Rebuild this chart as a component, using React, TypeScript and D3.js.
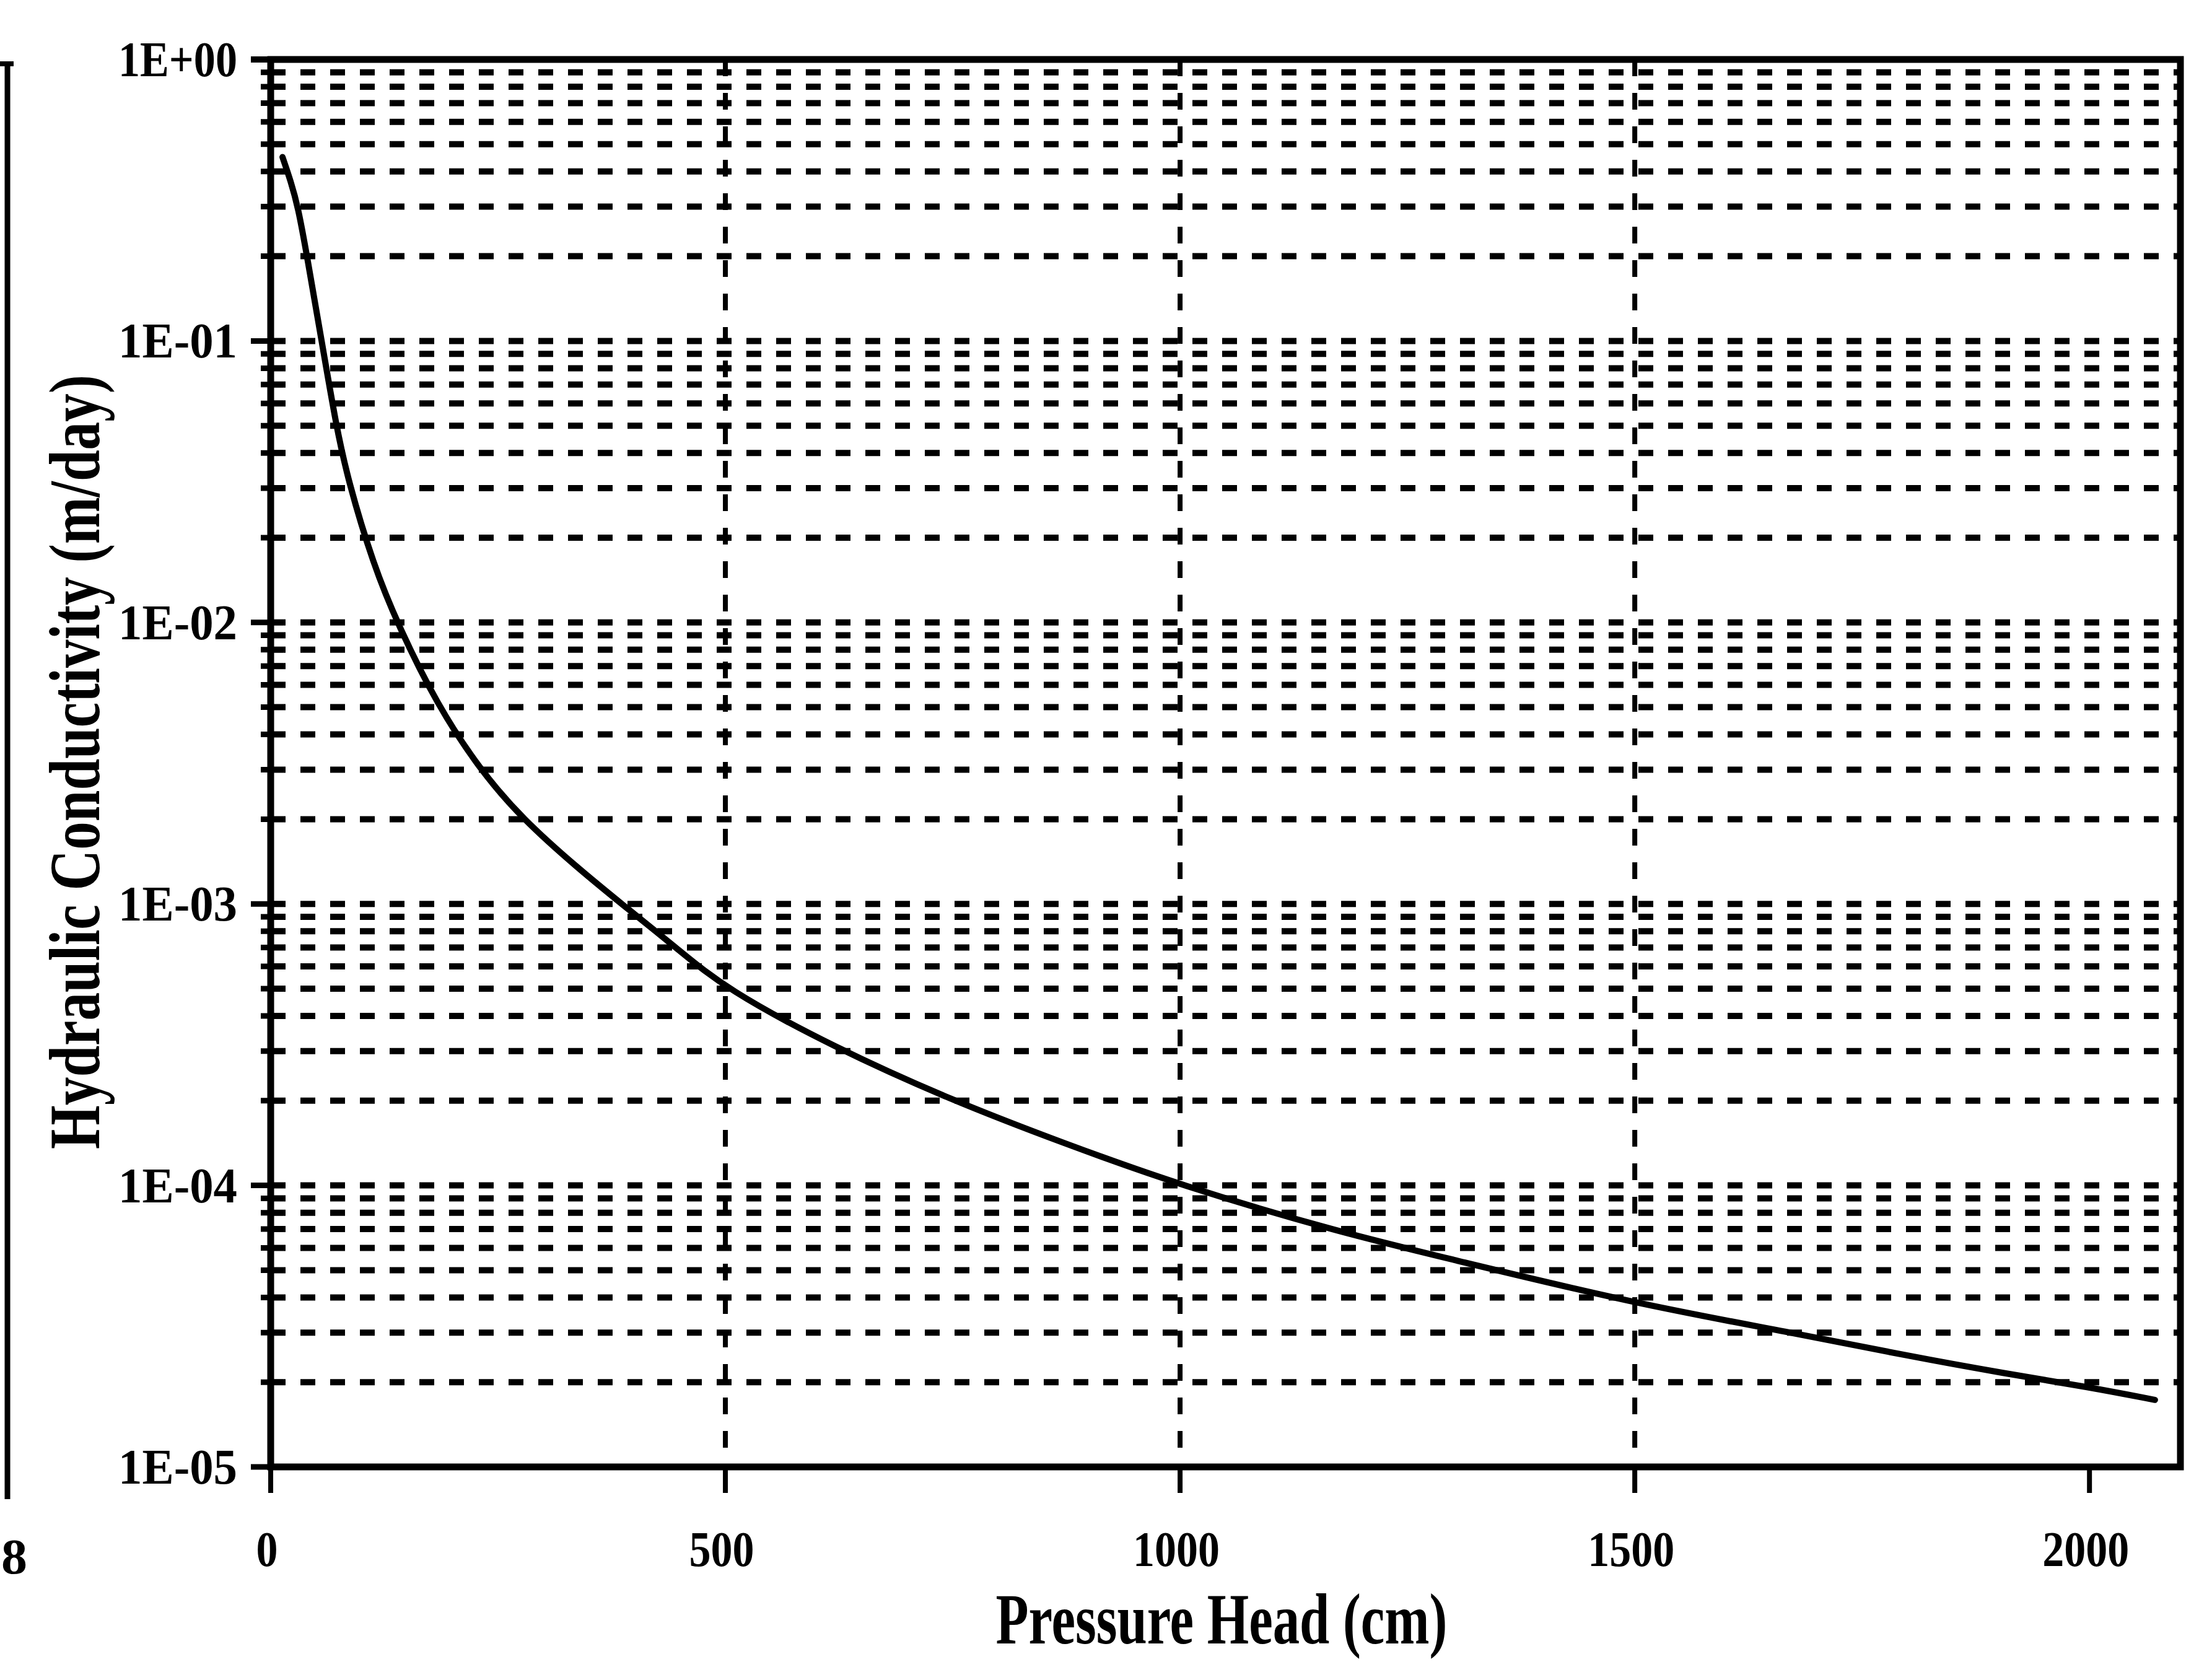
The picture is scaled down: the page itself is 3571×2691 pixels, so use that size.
import React from "react";
import * as d3 from "d3";

// Pressure head (cm) and hydraulic conductivity (m/day) along the curve
const pressureHead = [13, 22, 30, 40, 56, 72, 85, 113, 140, 183, 230, 277, 339, 386, 448, 500, 619, 750, 870, 1000, 1177, 1285, 1500, 1673, 1800, 1906, 2000, 2072];
const conductivity = [0.45, 0.37, 0.3, 0.2, 0.1, 0.05, 0.032, 0.016, 0.0098, 0.0051, 0.003, 0.002, 0.00133, 0.001, 0.00069, 0.0005, 0.00031, 0.0002, 0.000142, 0.0001, 0.000068, 0.000056, 0.000038, 0.00003, 0.0000248, 0.0000215, 0.0000192, 0.0000173];

const xTicks = [0, 500, 1000, 1500, 2000];
const xGridValues = [500, 1000, 1500];
const yDecades = [1, 0.1, 0.01, 0.001, 0.0001, 0.00001];
const yTickLabels = ["1E+00", "1E-01", "1E-02", "1E-03", "1E-04", "1E-05"];
const xTitle = "Pressure Head (cm)";
const yTitle = "Hydraulic Conductivity (m/day)";

const W = 3571;
const H = 2691;
const left = 437;
const right = 3520;
const top = 96;
const bottom = 2368;
const FONT = "'Liberation Serif', 'Times New Roman', serif";

export default function App() {
  const x = d3.scaleLinear().domain([0, 2100]).range([left, right]);
  const y = d3.scaleLog().domain([1e-5, 1]).range([bottom, top]);

  // every 1..9 x 10^k between 1e-5 and 1
  const minorValues: number[] = [];
  for (let e = -5; e < 0; e++) {
    for (let m = 1; m <= 9; m++) minorValues.push(m * Math.pow(10, e));
  }
  const gridValues = minorValues.filter((v) => v > 1e-5);

  const points: [number, number][] = pressureHead.map((h, i) => [h, conductivity[i]]);
  const line = d3
    .line<[number, number]>()
    .x((d) => x(d[0]))
    .y((d) => y(d[1]))
    .curve(d3.curveBasis);

  return (
    <svg
      width={W}
      height={H}
      viewBox={`0 0 ${W} ${H}`}
      style={{ position: "absolute", left: 0, top: 0, display: "block", background: "#fff" }}
    >
      <rect x={0} y={0} width={W} height={H} fill="#fff" />

      {/* edge of the neighbouring panel */}
      <line x1={12} x2={12} y1={100} y2={2420} stroke="#000" strokeWidth={9} />
      <line x1={0} x2={22} y1={103} y2={103} stroke="#000" strokeWidth={8} />
      <text
        x={2}
        y={2540}
        textAnchor="start"
        fontFamily={FONT}
        fontWeight={700}
        fontSize={80}
        textLength={42}
        lengthAdjust="spacingAndGlyphs"
      >
        8
      </text>

      {/* horizontal grid */}
      {gridValues.map((v, i) => (
        <line
          key={`hg${i}`}
          x1={left}
          x2={right}
          y1={y(v)}
          y2={y(v)}
          stroke="#000"
          strokeWidth={10}
          strokeDasharray="24 24"
        />
      ))}

      {/* vertical grid */}
      {xGridValues.map((v) => (
        <line
          key={`vg${v}`}
          x1={x(v)}
          x2={x(v)}
          y1={top}
          y2={bottom}
          stroke="#000"
          strokeWidth={8}
          strokeDasharray="27 27"
        />
      ))}

      {/* y-axis ticks */}
      {minorValues.map((v, i) => {
        const major = yDecades.includes(v);
        return (
          <line
            key={`yt${i}`}
            x1={major ? left - 32 : left - 16}
            x2={left + 20}
            y1={y(v)}
            y2={y(v)}
            stroke="#000"
            strokeWidth={9}
          />
        );
      })}
      <line x1={left - 32} x2={left} y1={y(1)} y2={y(1)} stroke="#000" strokeWidth={10} />

      {/* x-axis ticks */}
      {xTicks.map((v) => (
        <line key={`xt${v}`} x1={x(v)} x2={x(v)} y1={bottom} y2={bottom + 42} stroke="#000" strokeWidth={8} />
      ))}

      {/* frame */}
      <rect x={left} y={top} width={right - left} height={bottom - top} fill="none" stroke="#000" strokeWidth={11} />

      {/* curve */}
      <path d={line(points) ?? ""} fill="none" stroke="#000" strokeWidth={10} strokeLinejoin="round" strokeLinecap="round" />

      {/* y tick labels */}
      {yDecades.map((v, i) => (
        <text
          key={`yl${i}`}
          x={383}
          y={y(v) + 27}
          textAnchor="end"
          fontFamily={FONT}
          fontWeight={700}
          fontSize={80}
          textLength={192}
          lengthAdjust="spacingAndGlyphs"
        >
          {yTickLabels[i]}
        </text>
      ))}

      {/* x tick labels */}
      {xTicks.map((v) => {
        const label = String(v);
        return (
          <text
            key={`xl${v}`}
            x={x(v) - 6}
            y={2528}
            textAnchor="middle"
            fontFamily={FONT}
            fontWeight={700}
            fontSize={80}
            textLength={label.length * 35}
            lengthAdjust="spacingAndGlyphs"
          >
            {label}
          </text>
        );
      })}

      {/* axis titles */}
      <text
        x={1972}
        y={2653}
        textAnchor="middle"
        fontFamily={FONT}
        fontWeight={700}
        fontSize={116}
        textLength={729}
        lengthAdjust="spacingAndGlyphs"
      >
        {xTitle}
      </text>
      <text
        transform={`translate(160, 1230) rotate(-90)`}
        textAnchor="middle"
        fontFamily={FONT}
        fontWeight={700}
        fontSize={116}
        textLength={1250}
        lengthAdjust="spacingAndGlyphs"
      >
        {yTitle}
      </text>
    </svg>
  );
}
